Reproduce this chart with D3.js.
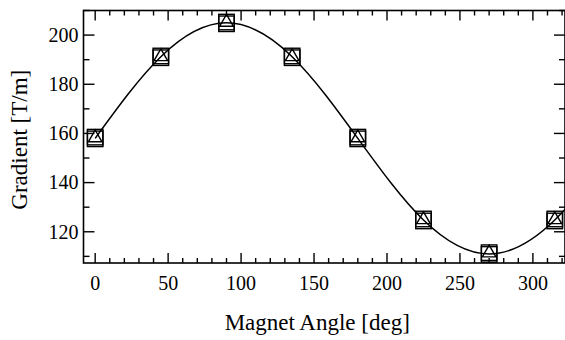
<!DOCTYPE html>
<html>
<head>
<meta charset="utf-8">
<script src="https://cdn.jsdelivr.net/npm/d3@7"></script>
<style>
  body { margin: 0; background: #fff; }
  svg { display: block; }
  text { font-family: "Liberation Serif", "DejaVu Serif", serif; fill: #000; }
</style>
</head>
<body>
<div id="viz"></div>
<script>
// measured points
const angles = [0, 45, 90, 135, 180, 225, 270, 315];
const squareA = [158.5, 191.5, 205.3, 191.5, 158.5, 125.2, 111.5, 125.2];
const squareB = [157.8, 190.8, 204.6, 190.8, 157.8, 124.4, 110.8, 124.4];
const triangle = [158.2, 191.2, 205.2, 191.2, 158.2, 124.9, 111.4, 124.9];

// fitted curve, read at each 45 deg
const fitAngles = [0, 45, 90, 135, 180, 225, 270, 315, 360];
const fitValues = [158, 191.2, 205, 191.2, 158, 124.8, 111, 124.8, 158];

const xTicks = [0, 50, 100, 150, 200, 250, 300];
const yTicks = [120, 140, 160, 180, 200];

const dims = {
  width: 565,
  height: 340,
  left: 83.5,
  right: 565,
  top: 10.5,
  bottom: 263,
};

const svg = d3.select('#viz').append('svg')
  .attr('width', dims.width)
  .attr('height', dims.height);

const xScale = d3.scaleLinear().domain([-8, 322]).range([dims.left, dims.right]);
const yScale = d3.scaleLinear().domain([107.3, 210]).range([dims.bottom, dims.top]);

svg.append('defs').append('clipPath').attr('id', 'clip')
  .append('rect')
  .attr('x', dims.left).attr('y', dims.top)
  .attr('width', dims.right - dims.left).attr('height', dims.bottom - dims.top);

// minor/major ticks, all pointing inward
const xMinor = d3.range(0, 330, 10);
const yMinor = d3.range(110, 211, 10);

const ticks = svg.append('g').attr('stroke', '#000').attr('stroke-width', 1.4);
xMinor.forEach(v => {
  const len = v % 50 === 0 ? 10 : 5;
  const x = xScale(v);
  if (x > dims.right) return;
  ticks.append('line').attr('x1', x).attr('x2', x).attr('y1', dims.bottom).attr('y2', dims.bottom - len);
  ticks.append('line').attr('x1', x).attr('x2', x).attr('y1', dims.top).attr('y2', dims.top + len);
});
yMinor.forEach(v => {
  const len = v % 20 === 0 ? 11 : 6;
  const y = yScale(v);
  if (y < dims.top || y > dims.bottom) return;
  ticks.append('line').attr('x1', dims.left).attr('x2', dims.left + len).attr('y1', y).attr('y2', y);
  ticks.append('line').attr('x1', dims.right).attr('x2', dims.right - len).attr('y1', y).attr('y2', y);
});

// frame
svg.append('rect')
  .attr('x', dims.left).attr('y', dims.top)
  .attr('width', dims.right - dims.left).attr('height', dims.bottom - dims.top)
  .attr('fill', 'none')
  .attr('stroke', '#000')
  .attr('stroke-width', 1.6);

// tick labels
svg.append('g').selectAll('text')
  .data(xTicks)
  .join('text')
  .attr('x', d => xScale(d))
  .attr('y', 289.5)
  .attr('text-anchor', 'middle')
  .style('font-size', '20px')
  .text(d => d);

svg.append('g').selectAll('text')
  .data(yTicks)
  .join('text')
  .attr('x', 78.5)
  .attr('y', d => yScale(d) + 6.8)
  .attr('text-anchor', 'end')
  .style('font-size', '20px')
  .text(d => d);

// axis titles
svg.append('text')
  .attr('x', (dims.left + dims.right) / 2 - 7)
  .attr('y', 330)
  .attr('text-anchor', 'middle')
  .style('font-size', '23px')
  .text('Magnet Angle [deg]');

svg.append('text')
  .attr('transform', `translate(27,${(dims.top + dims.bottom) / 2 + 3}) rotate(-90)`)
  .attr('text-anchor', 'middle')
  .style('font-size', '23px')
  .text('Gradient [T/m]');

// fit curve
const line = d3.line()
  .x((d, i) => xScale(fitAngles[i]))
  .y(d => yScale(d))
  .curve(d3.curveNatural);

svg.append('path')
  .attr('clip-path', 'url(#clip)')
  .attr('d', line(fitValues))
  .attr('fill', 'none')
  .attr('stroke', '#000')
  .attr('stroke-width', 1.5);

// markers
const marks = svg.append('g')
  .attr('fill', 'none')
  .attr('stroke', '#000')
  .attr('stroke-width', 1.4);

const sq = 15.5;
[squareA, squareB].forEach(vals => {
  marks.append('g').selectAll('rect')
    .data(vals)
    .join('rect')
    .attr('x', (d, i) => xScale(angles[i]) - sq / 2)
    .attr('y', d => yScale(d) - sq / 2)
    .attr('width', sq)
    .attr('height', sq);
});

const tri = d3.symbol().type(d3.symbolTriangle).size(80);
marks.append('g').selectAll('path')
  .data(triangle)
  .join('path')
  .attr('transform', (d, i) => `translate(${xScale(angles[i])},${yScale(d)})`)
  .attr('d', tri);
</script>
</body>
</html>
